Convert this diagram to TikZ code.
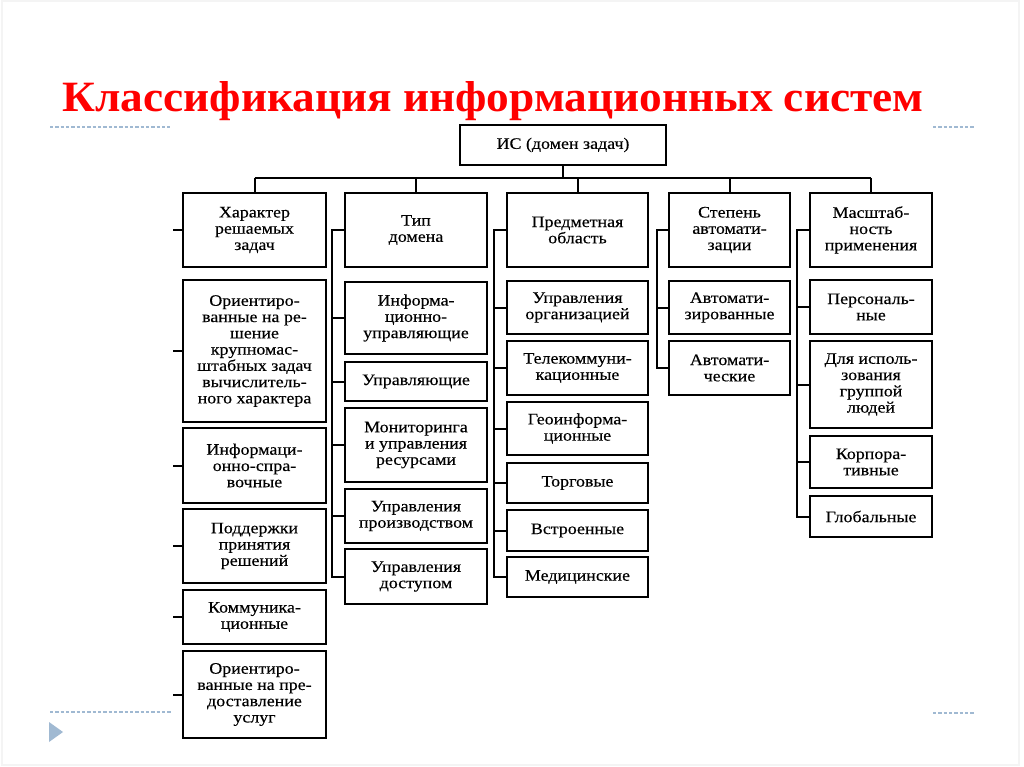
\documentclass[tikz,border=0pt]{standalone}
\usepackage{fontspec}
\setmainfont{Liberation Serif}
\newfontfamily\boxfont{Liberation Serif}[FakeStretch=1.12, FakeBold=0.3]
\usepackage{graphicx}
\definecolor{deco}{RGB}{160,185,210}
\definecolor{frame}{RGB}{244,244,244}
\tikzset{
  box/.style={draw, line width=1.6pt, inner sep=0pt, align=center,
    font=\boxfont\fontsize{12}{12.2}\selectfont},
  conn/.style={line width=1.5pt},
  busline/.style={line width=2pt},
  decoline/.style={deco, line width=0.9pt, dash pattern=on 2.4pt off 1.6pt},
}
\newcommand\mybox[6]{\node[box, minimum width={(#4-#2)*0.75pt}, minimum height={(#5-#3)*0.75pt}] (#1) at ({(#2+#4)/2},{(#3+#5)/2}) {#6};}
\begin{document}
\begin{tikzpicture}[x=0.75pt,y=-0.75pt]
\useasboundingbox (0,0) rectangle (1024,767);
\fill[white] (0,0) rectangle (1024,767);
\draw[frame, line width=0.8pt] (2,1) rectangle (1019,765);
% slide decoration
\draw[decoline] (50,127) -- (170,127);
\draw[decoline] (933,127) -- (975,127);
\draw[decoline] (50,712) -- (172,712);
\draw[decoline] (933,713) -- (975,713);
\fill[deco] (49,722) -- (63,732) -- (49,742) -- cycle;
% title
\node[anchor=base west, inner sep=0pt, text=red] (title) at (62,112)
  {\resizebox{646pt}{22.5pt}{\bfseries Классификация информационных систем}};
% root
\mybox{root}{460}{125}{666}{165}{ИС (домен задач)}
% headers
\mybox{h1}{183}{193}{326}{267}{Характер\\решаемых\\задач}
\mybox{h2}{345}{193}{487}{267}{Тип\\домена}
\mybox{h3}{507}{193}{648}{267}{Предметная\\область}
\mybox{h4}{669}{193}{790}{267}{Степень\\автомати-\\зации}
\mybox{h5}{810}{193}{932}{267}{Масштаб-\\ность\\применения}
% column 1
\mybox{a1}{183}{280}{326}{422}{Ориентиро-\\ванные на ре-\\шение\\крупномас-\\штабных задач\\вычислитель-\\ного характера}
\mybox{a2}{183}{428}{326}{503}{Информаци-\\онно-спра-\\вочные}
\mybox{a3}{183}{509}{326}{583}{Поддержки\\принятия\\решений}
\mybox{a4}{183}{590}{326}{644}{Коммуника-\\ционные}
\mybox{a5}{183}{651}{326}{738}{Ориентиро-\\ванные на пре-\\доставление\\услуг}
% column 2
\mybox{b1}{345}{282}{487}{354}{Информа-\\ционно-\\управляющие}
\mybox{b2}{345}{362}{487}{401}{Управляющие}
\mybox{b3}{345}{408}{487}{482}{Мониторинга\\и управления\\ресурсами}
\mybox{b4}{345}{489}{487}{543}{Управления\\производством}
\mybox{b5}{345}{549}{487}{604}{Управления\\доступом}
% column 3
\mybox{c1}{507}{281}{648}{334}{Управления\\организацией}
\mybox{c2}{507}{341}{648}{395}{Телекоммуни-\\кационные}
\mybox{c3}{507}{402}{648}{455}{Геоинформа-\\ционные}
\mybox{c4}{507}{463}{648}{503}{Торговые}
\mybox{c5}{507}{510}{648}{551}{Встроенные}
\mybox{c6}{507}{557}{648}{597}{Медицинские}
% column 4
\mybox{d1}{669}{281}{790}{334}{Автомати-\\зированные}
\mybox{d2}{669}{341}{790}{395}{Автомати-\\ческие}
% column 5
\mybox{e1}{810}{280}{932}{334}{Персональ-\\ные}
\mybox{e2}{810}{341}{932}{428}{Для исполь-\\зования\\группой\\людей}
\mybox{e3}{810}{436}{932}{488}{Корпора-\\тивные}
\mybox{e4}{810}{496}{932}{537}{Глобальные}
% bus
\coordinate (bus) at (0,178);
\draw[conn] (root.south) -- (root.south |- bus);
\draw[busline] (h1.north |- bus) -- (h5.north |- bus);
\foreach \h in {h1,h2,h3,h4,h5} \draw[conn] (\h.north |- bus) -- (\h.north);
% column 1 ticks
\coordinate (v1) at (173,0);
\foreach \n in {h1,a1,a2,a3,a4,a5} \draw[conn] (\n.west) -- (\n.west -| v1);
% column 2
\coordinate (v2) at (332,0);
\draw[conn] (h2.west) -- (h2.west -| v2) -- (b5.west -| v2) -- (b5.west);
\foreach \n in {b1,b2,b3,b4} \draw[conn] (\n.west) -- (\n.west -| v2);
% column 3
\coordinate (v3) at (494,0);
\draw[conn] (h3.west) -- (h3.west -| v3) -- (c6.west -| v3) -- (c6.west);
\foreach \n in {c1,c2,c3,c4,c5} \draw[conn] (\n.west) -- (\n.west -| v3);
% column 4
\coordinate (v4) at (657,0);
\draw[conn] (h4.west) -- (h4.west -| v4) -- (d2.west -| v4) -- (d2.west);
\draw[conn] (d1.west) -- (d1.west -| v4);
% column 5
\coordinate (v5) at (797,0);
\draw[conn] (h5.west) -- (h5.west -| v5) -- (e4.west -| v5) -- (e4.west);
\foreach \n in {e1,e2,e3} \draw[conn] (\n.west) -- (\n.west -| v5);
\end{tikzpicture}
\end{document}
